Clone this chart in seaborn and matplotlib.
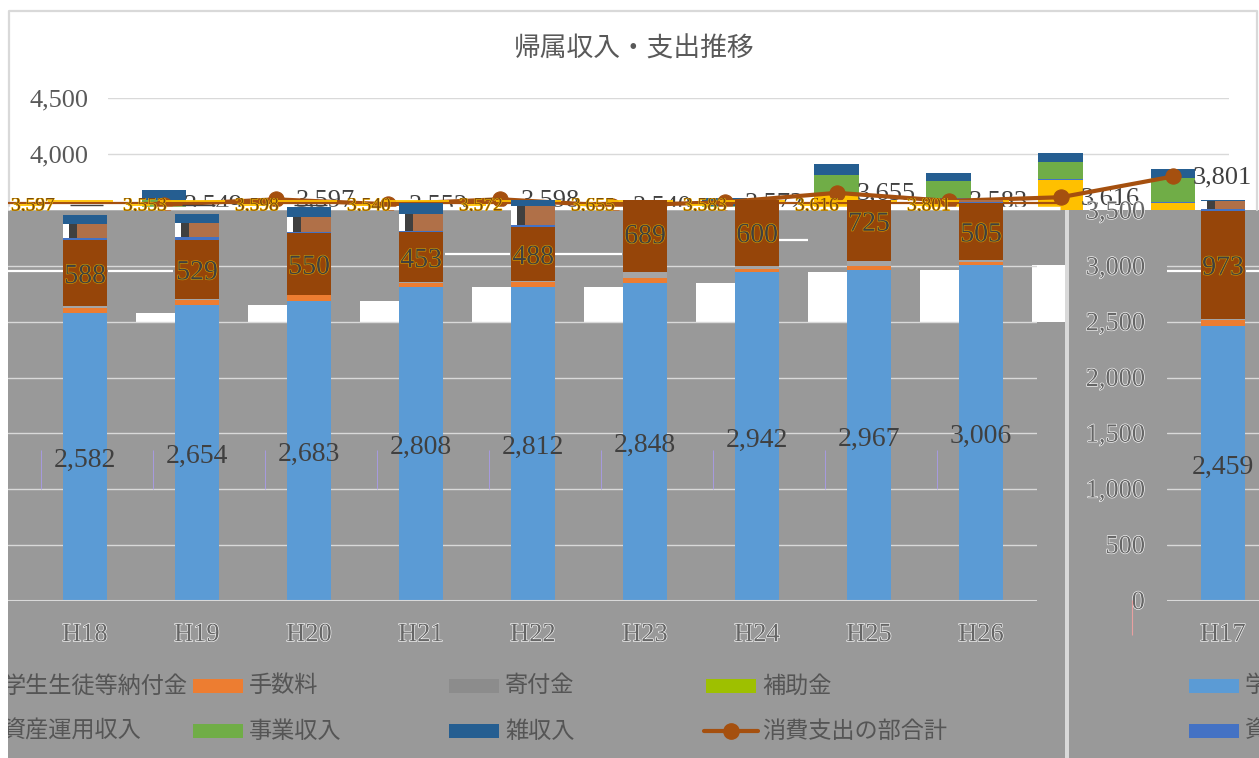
import matplotlib
matplotlib.use('Agg')
import matplotlib.pyplot as plt
import matplotlib.patheffects as pe
from matplotlib.patches import Rectangle
from matplotlib.transforms import Bbox, TransformedBbox
import numpy as np
import seaborn as sns

sns.set_style('white')
plt.rcParams['font.family'] = ['Noto Sans CJK JP', 'DejaVu Sans']

W, H = 1259, 758
SERIF = 'Liberation Serif'

# --- data (oku yen), H17 first
years = ['H17', 'H18', 'H19', 'H20', 'H21', 'H22', 'H23', 'H24', 'H25', 'H26']
tuition = [2459, 2582, 2654, 2683, 2808, 2812, 2848, 2942, 2967, 3006]
fees = [55, 45, 45, 55, 40, 45, 40, 35, 35, 30]
donations = [10, 15, 5, 5, 5, 5, 60, 25, 40, 20]
subsidies = [973, 588, 529, 550, 453, 488, 689, 600, 725, 505]
investment = [10, 20, 25, 15, 10, 20, 5, 5, 15, 10]
business = [80, 125, 125, 130, 150, 170, 175, 157, 150, 219]
misc = [95, 80, 80, 90, 100, 73, 98, 70, 81, 80]
expenses = [3549, 3597, 3553, 3598, 3540, 3572, 3655, 3583, 3616, 3801]

series = [tuition, fees, donations, subsidies, investment, business, misc]
top_colors = ['#5B9BD5', '#ED7D31', '#A5A5A5', '#FFC000', '#4472C4', '#70AD47', '#255E91']
low_colors = ['#5B9BD5', '#ED7D31', '#A5A5A5', '#964509', '#4472C4', '#B07048', '#255E91']

legend_row1 = ['手数料', '寄付金', '補助金']
legend_row2 = ['事業収入', '雑収入', '消費支出の部合計']

GRAY = '#999999'
GRID = '#D9D9D9'
LINE = '#A5500F'
BAR_W = 0.40


def px_axes(x0, y0, x1, y1, z):
    # axes placed by pixel box, y measured from the top of the picture
    ax = fig.add_axes([x0 / W, 1 - y1 / H, (x1 - x0) / W, (y1 - y0) / H], zorder=z)
    ax.patch.set_visible(False)
    for s in ax.spines.values():
        s.set_visible(False)
    return ax


def stack(ax, idx, colors):
    cats = [years[i] for i in idx]
    bottom = np.zeros(len(idx))
    for vals, c in zip(series, colors):
        v = np.array([vals[i] for i in idx], dtype=float)
        sns.barplot(x=cats, y=v, bottom=bottom, color=c, saturation=1, width=BAR_W,
                    linewidth=0, edgecolor='none', ax=ax)
        bottom += v
    ax.set_xlabel('')
    ax.set_ylabel('')


def hollow(text, fill='#666666', edge='white', lw=0.9):
    text.set_path_effects([pe.withStroke(linewidth=lw, foreground=edge)])
    text.set_color(fill)


fig = plt.figure(figsize=(W / 100, H / 100), dpi=100, facecolor='white')

# background sheet in pixel coordinates
bg = px_axes(0, 0, W, H, 0)
bg.set_xlim(0, W)
bg.set_ylim(H, 0)
bg.axis('off')
bg.add_patch(Rectangle((8, 210), W - 8, H - 210, color=GRAY, lw=0))
bg.plot([9, 9, 1257, 1257], [210, 11, 11, 210], color=GRID, lw=1.6)

# --- top layer: the strip that still shows the white chart
top = px_axes(108, 98, 1229, 210, 1)
stack(top, range(10), top_colors)
top.set_ylim((600.5 - 210) / 0.1115, 4500)
top.set_xlim(-0.5, 9.5)
top.set_yticks([4000, 4500], ['4,000', '4,500'], family=SERIF, fontsize=19, color='#595959')
top.tick_params(axis='y', length=0, pad=14.4)
top.set_xticks([])
for v in [4000, 4500]:
    top.axhline(v, color=GRID, lw=1, zorder=0)
sns.lineplot(x=np.arange(10), y=expenses, ax=top, color=LINE, lw=3, marker='o', ms=11,
             mec=LINE, zorder=5)
strip_clip = TransformedBbox(Bbox([[0, 1 - 210 / H], [1, 1]]), fig.transFigure)
for i, v in enumerate(expenses):
    t = top.annotate(f'{v:,}', (i, v), xytext=(20, -1), textcoords='offset pixels', va='center',
                     family=SERIF, fontsize=19, color='#404040', annotation_clip=False)
    t.set_clip_on(True)
    t.set_clip_box(strip_clip)

# --- white holes, same tuition values seen from 2,500 upward
holes = px_axes(102.5, 210, 1068, 321.7, 2)
sns.barplot(x=years[1:], y=np.array(tuition[1:]) - 2500, bottom=2500, color='white',
            saturation=1, width=BAR_W, linewidth=0, edgecolor='none', ax=holes)
holes.set_xlim(-0.5, (1068 - 102.5) / 112 - 0.5)
holes.set_ylim(2500, (600.5 - 210) / 0.1115)
holes.axis('off')

# --- garbled band between the two layers, the line labels again in broken slices
band = px_axes(8, 198, W, 211, 3)
band.set_xlim(8, W)
band.set_ylim(211, 198)
band.axis('off')
band.hlines(202.5, 8, 1060, color=LINE, lw=1.6)
band.hlines(207.5, 8, 1060, color='white', lw=2.5)
for k, v in enumerate(expenses[1:10]):
    x0 = 8 + 112 * k
    band.hlines(200.5, x0 + 40, x0 + 105, color='#FFC000', lw=1.3)
    band.hlines(204.5, x0 + 62, x0 + 95, color='#404040', lw=1)
    band.hlines(204.5, x0 + 8, x0 + 30, color='#FFC000', lw=1.3)
    t = band.text(x0 + 3, 206, f'{v:,}', va='center', family=SERIF, fontsize=14, clip_on=True)
    hollow(t, fill='#7A4A10', edge='#FFC000', lw=0.8)

# --- lower layer, gray, wraps round the right edge
y_top = (600.5 - 200) / 0.1115
main = px_axes(8, 200, 1037, 600.5, 4)
side = px_axes(1167, 200, W, 600.5, 4)
stack(main, range(1, 10), low_colors)
stack(side, [0], low_colors)

main.set_xlim(-0.5 - 21 / 112, 8.5)
side.set_xlim(-0.5, (W - 1167) / 112 - 0.5)
for ax in (main, side):
    ax.set_ylim(0, y_top)
    ax.set_axisbelow(True)
    ax.grid(axis='x', visible=False)
    for v in range(500, 3001, 500):
        ax.axhline(v, color=GRID, lw=1, zorder=0)
    ax.axhline(0, color=GRID, lw=1.5, zorder=3)
    ax.tick_params(axis='x', length=0, pad=17)
    for lab in ax.get_xticklabels():
        lab.set_family(SERIF)
        lab.set_fontsize(19)
        hollow(lab)

main.set_yticks([])
side.set_yticks(range(0, 3501, 500), [f'{v:,}' for v in range(0, 3501, 500)])
side.tick_params(axis='y', length=0, pad=16)
for lab in side.get_yticklabels():
    lab.set_family(SERIF)
    lab.set_fontsize(19)
    hollow(lab)

# dark and white chips on the left of each tan block, labels on the bars
for ax, idx in ((main, range(1, 10)), (side, [0])):
    for pos, i in enumerate(idx):
        low = sum(s[i] for s in series[:5])
        high = min(low + business[i], y_top)
        if low < 3520:
            ax.bar(pos - BAR_W / 2 + 0.03, high - low, bottom=low, width=0.06, color='white', lw=0, zorder=3)
            ax.bar(pos - BAR_W / 2 + 0.095, high - low, bottom=low, width=0.07, color='#404040', lw=0, zorder=3)
        ax.text(pos, tuition[i] / 2 - 35, f'{tuition[i]:,}', ha='center', va='center', family=SERIF,
                fontsize=20, color='#404040', zorder=6)
        base = sum(s[i] for s in series[:3])
        t = ax.text(pos, base + subsidies[i] / 2 - 30, f'{subsidies[i]}', ha='center', va='center',
                    family=SERIF, fontsize=20, zorder=6)
        hollow(t, fill='#404040', edge='#D9A000', lw=0.8)
    # faint lilac ticks left of the bars
    if ax is main:
        ax.vlines(np.arange(9) - 0.39, 1000, 1350, color='#A79BE0', lw=0.7, zorder=1)

# --- legend and the rest, drawn on a sheet on top
fg = px_axes(0, 0, W, H, 10)
fg.set_xlim(0, W)
fg.set_ylim(H, 0)
fg.axis('off')
fg.add_patch(Rectangle((1065, 210), 4, H - 210, color=GRID, lw=0))
fg.text(634.5, 49, '帰属収入・支出推移', ha='center', va='center', fontsize=19.3, color='#595959')

TXT = '#555555'
LEG = 16.7
row1_y, row2_y = 686, 731
fg.text(3, row1_y, '学生生徒等納付金', va='center', fontsize=LEG, color=TXT)
fg.text(3, row2_y, '資産運用収入', va='center', fontsize=LEG, color=TXT)
for x, name, c in zip([193, 449, 706], legend_row1, ['#ED7D31', '#8C8C8C', '#9EC000']):
    fg.add_patch(Rectangle((x, row1_y - 7), 50, 14, color=c, lw=0))
    fg.text(x + 56, row1_y, name, va='center', fontsize=LEG, color=TXT)
for x, name, c in zip([193, 449], legend_row2[:2], ['#70AD47', '#255E91']):
    fg.add_patch(Rectangle((x, row2_y - 7), 50, 14, color=c, lw=0))
    fg.text(x + 56, row2_y, name, va='center', fontsize=LEG, color=TXT)
fg.plot([704, 758], [row2_y, row2_y], color=LINE, lw=3)
fg.plot([731], [row2_y], 'o', color=LINE, ms=11)
fg.text(762, row2_y, legend_row2[2], va='center', fontsize=LEG, color=TXT)
fg.add_patch(Rectangle((1189, row1_y - 7), 50, 14, color='#5B9BD5', lw=0))
fg.add_patch(Rectangle((1189, row2_y - 7), 50, 14, color='#4472C4', lw=0))
fg.text(1245, row1_y, '学', va='center', fontsize=LEG, color=TXT)
fg.text(1245, row2_y, '資', va='center', fontsize=LEG, color=TXT)
fg.add_patch(Rectangle((0, 205), 8, H - 205, color='white', lw=0, zorder=9))

# white streaks across the gray, pink tick under the axis
for y, x0, x1 in [(271, 8, 63), (271, 108, 173), (271, 1167, 1201), (271, 1246, 1259),
                  (254, 445, 510), (254, 555, 622), (240, 779, 808)]:
    fg.hlines(y, x0, x1, color='white', lw=1.6, zorder=1)
fg.vlines(1132, 600, 635, color='#E8A0A0', lw=0.8)

fig.savefig('out.png', dpi=100)
